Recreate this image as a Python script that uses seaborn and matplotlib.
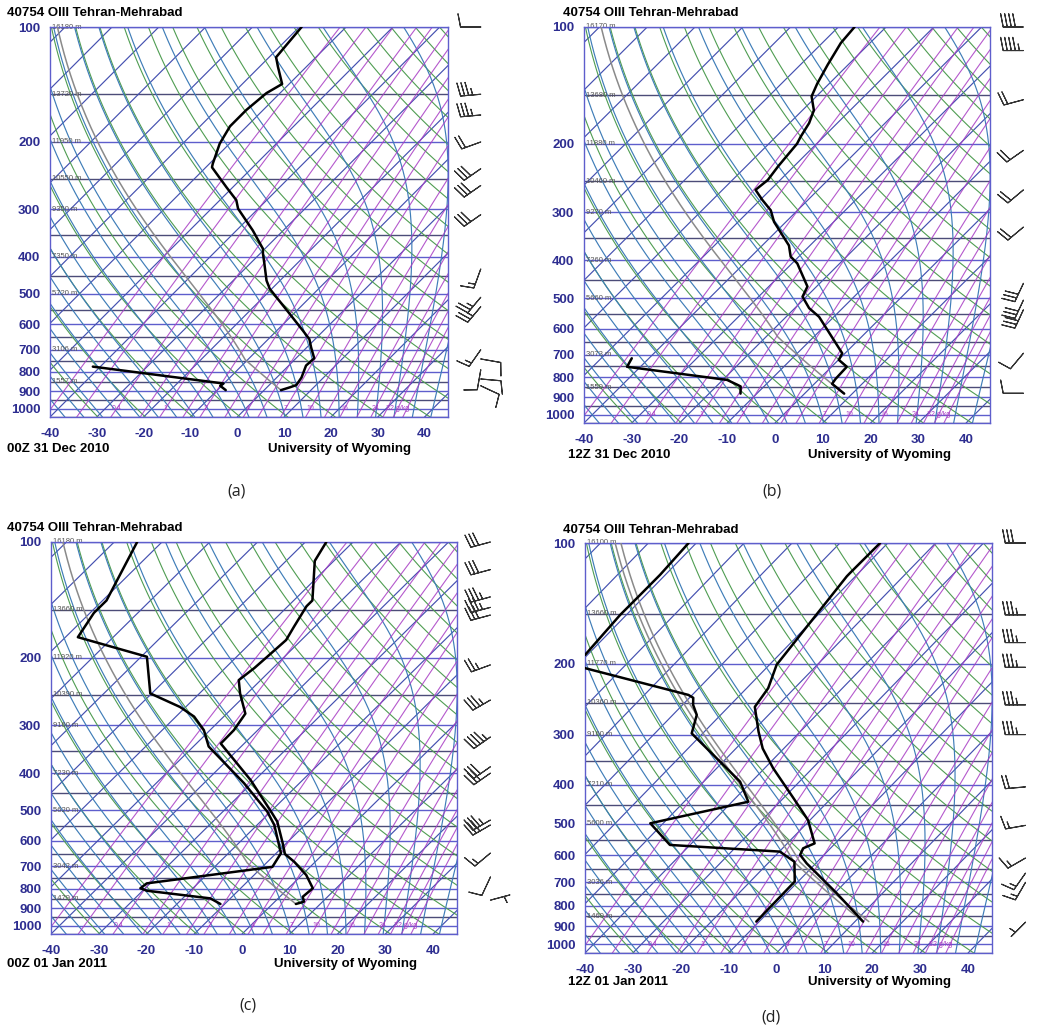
import numpy as np
import pandas as pd
import seaborn as sns
import matplotlib
matplotlib.use("Agg")
import matplotlib.pyplot as plt

W, H = 1040, 1030
SKEW = 35.4      # degC of horizontal shift per unit of ln(p)
P_BOT = 1050.0

# ---- soundings (pressure hPa, temperature degC) ----
a_temp_p = [100, 120, 127, 141, 149, 165, 182, 202, 228, 233, 263, 284, 299, 341, 381, 392,
            417, 461, 485, 564, 624, 657, 690, 737, 770, 828, 866, 878, 893]
a_temp_t = [-69.5, -68.5, -66.1, -61.5, -62.9, -63.6, -63.6, -62.1, -59.3, -58.7, -51.3, -46.5,
            -44.3, -36.5, -30.4, -29.4, -26.9, -22.9, -20.4, -10.8, -4.4, -1.2, 0.9, 3.9, 3.7,
            5.3, 5.8, 4.9, 3.6]
a_dewp_p = [775, 858, 870, 893]
a_dewp_t = [-41.6, -10.1, -10.3, -8.2]

b_temp_p = [100, 110, 125, 140, 151, 164, 177, 192, 200, 229, 248, 263, 279, 297, 318, 366,
            391, 407, 467, 496, 531, 559, 694, 722, 752, 808, 832, 882]
b_temp_t = [-66.6, -66.1, -64.3, -62.5, -61.0, -57.6, -55.9, -54.8, -54.1, -53.3, -52.6, -53.1,
            -49.6, -45.6, -42.5, -34.4, -31.7, -28.9, -21.9, -20.8, -17.0, -13.1, -0.6, 0.1,
            3.2, 3.4, 3.7, 8.3]
b_dewp_p = [715, 752, 813, 837, 845, 882]
b_dewp_t = [-43.6, -42.8, -19.1, -15.9, -14.9, -13.4]

c_temp_p = [100, 112, 142, 147, 166, 180, 199, 213, 229, 248, 280, 309, 335, 417, 504, 535,
            610, 650, 681, 737, 798, 840, 865, 877]
c_temp_t = [-65.6, -64.0, -56.1, -56.1, -54.4, -53.2, -53.6, -53.9, -54.6, -51.5, -46.1, -45.0,
            -44.9, -30.9, -19.9, -16.5, -10.7, -8.0, -4.4, 0.9, 5.1, 4.8, 6.1, 4.9]
c_dewp_p = [100, 142, 153, 177, 199, 248, 269, 285, 309, 341, 425, 504, 546, 647, 702, 775,
            798, 810, 848, 877]
c_dewp_t = [-105.2, -99.2, -99.2, -97.4, -78.8, -70.3, -61.2, -56.2, -51.3, -46.8, -31.6, -20.7,
            -16.4, -9.0, -7.9, -30.7, -31.0, -29.1, -14.2, -10.9]

d_temp_p = [100, 119, 121, 201, 230, 256, 295, 325, 364, 432, 490, 560, 576, 598, 628, 745, 877]
d_temp_t = [-61.6, -61.8, -61.8, -58.5, -55.5, -54.5, -48.7, -44.4, -38.2, -27.9, -20.4, -14.3,
            -15.7, -15.0, -11.9, 0.4, 11.7]
d_dewp_p = [100, 120, 137, 151, 190, 198, 205, 239, 243, 253, 268, 298, 393, 441, 499, 565,
            587, 622, 697, 877]
d_dewp_t = [-101.6, -101.1, -101.2, -101.3, -100.5, -104.1, -97.8, -70.8, -69.2, -67.8, -65.0,
            -62.3, -42.4, -36.6, -52.7, -44.2, -19.9, -14.8, -10.7, -10.6]

# ---- winds (pressure hPa, direction deg, speed kt) ----
a_wind_p = [100, 150, 170, 200, 235, 260, 310, 430, 510, 540, 700, 740, 790, 835, 870]
a_wind_dir = [270, 265, 265, 250, 235, 235, 235, 200, 220, 220, 215, 100, 190, 95, 115]
a_wind_spd = [10, 35, 35, 20, 30, 30, 30, 15, 25, 25, 15, 10, 10, 10, 10]

b_wind_p = [100, 115, 154, 208, 263, 328, 458, 506, 536, 694, 880]
b_wind_dir = [270, 270, 255, 235, 230, 230, 205, 205, 205, 220, 270]
b_wind_spd = [40, 45, 20, 20, 20, 20, 30, 30, 30, 10, 10]

c_wind_p = [100, 118, 139, 148, 155, 209, 258, 322, 385, 400, 530, 546, 646, 746, 857]
c_wind_dir = [255, 255, 255, 255, 255, 250, 240, 235, 235, 235, 240, 240, 230, 205, 75]
c_wind_spd = [30, 30, 35, 35, 30, 25, 35, 45, 30, 30, 35, 30, 15, 10, 5]

d_wind_p = [100, 151, 177, 204, 253, 300, 405, 505, 609, 664, 700, 880]
d_wind_dir = [270, 270, 270, 270, 270, 270, 265, 260, 240, 215, 210, 225]
d_wind_spd = [30, 35, 35, 35, 35, 35, 20, 15, 15, 15, 15, 5]

# ---- heights of the standard levels ----
height_levels = [100, 150, 200, 250, 300, 400, 500, 700, 850]
a_heights = [16180, 13720, 11950, 10550, 9350, 7350, 5720, 3106, 1557]
b_heights = [16170, 13680, 11880, 10460, 9270, 7260, 5660, 3073, 1559]
c_heights = [16180, 13660, 11920, 10390, 9160, 7230, 5620, 3042, 1479]
d_heights = [16100, 13660, 11770, 10360, 9160, 7210, 5600, 3036, 1469]

station = "40754 OIII Tehran-Mehrabad"
times = ["00Z 31 Dec 2010", "12Z 31 Dec 2010", "00Z 01 Jan 2011", "12Z 01 Jan 2011"]
captions = ["(a)", "(b)", "(c)", "(d)"]

p_ticks = [100, 200, 300, 400, 500, 600, 700, 800, 900, 1000]
t_ticks = [-40, -30, -20, -10, 0, 10, 20, 30, 40]
mix_lines = [0.1, 0.2, 0.4, 0.7, 1, 1.5, 2, 3, 4, 5, 7, 10, 13, 16, 20, 24, 28, 32, 36]
mix_labels = {0.4: "0.4", 1: "1", 2: "2", 4: "4", 7: "7", 10: "10", 16: "16", 24: "24",
              32: "32 g/kg"}

C_ISOBAR = "#5e5ecc"
C_ISOBAR50 = "#4c4c78"
C_ISOTHERM = "#4450b0"
C_DRY = "#4f9d52"
C_MOIST = "#3f7db8"
C_MIX = "#a83cc4"
C_TICK = "#2d2d90"


def skew_x(t, p):
    return np.asarray(t, float) + SKEW * np.log(P_BOT / np.asarray(p, float))


def sat_vp(tc):
    return 6.112 * np.exp(17.67 * tc / (tc + 243.5))


def moist_slope(tk, p):
    es = sat_vp(tk - 273.15)
    rs = 0.622 * es / (p - es)
    num = 287.04 * tk + 2.501e6 * rs
    den = 1005.7 + 2.501e6 ** 2 * rs * 0.622 / (287.04 * tk ** 2)
    return num / den / p


def moist_path(tc0, p0, p1, n=160):
    ps = np.exp(np.linspace(np.log(p0), np.log(p1), n))
    ts = np.empty(n)
    ts[0] = tc0 + 273.15
    for i in range(n - 1):
        dp = ps[i + 1] - ps[i]
        k1 = moist_slope(ts[i], ps[i])
        k2 = moist_slope(ts[i] + 0.5 * dp * k1, ps[i] + 0.5 * dp)
        ts[i + 1] = ts[i] + dp * k2
    return ps, ts - 273.15


def dewpoint_from_mix(w, p):
    e = w * p / (622.0 + w)
    g = np.log(e / 6.112)
    return 243.5 * g / (17.67 - g)


def parcel(t0, td0, p0):
    tk, tdk = t0 + 273.15, td0 + 273.15
    t_lcl = 1.0 / (1.0 / (tdk - 56) + np.log(tk / tdk) / 800.0) + 56
    p_lcl = p0 * (t_lcl / tk) ** (1 / 0.2857)
    pd_ = np.exp(np.linspace(np.log(p0), np.log(p_lcl), 30))
    td_ = tk * (pd_ / p0) ** 0.2857 - 273.15
    pm, tm = moist_path(t_lcl - 273.15, p_lcl, 100)
    return np.concatenate([pd_, pm]), np.concatenate([td_, tm])


sns.set_theme(style="white")
plt.rcParams["font.family"] = ["Liberation Sans", "DejaVu Sans"]

fig = plt.figure(figsize=(W / 100, H / 100), dpi=100)
fig.patch.set_facecolor("white")

panels = [
    dict(box=(50, 27, 448, 417), tp=a_temp_p, tt=a_temp_t, dp=a_dewp_p, dt=a_dewp_t,
         wp=a_wind_p, wd=a_wind_dir, ws=a_wind_spd, hz=a_heights,
         title=(7, 13), tlab=(7, 449), uw=(340, 449), cap=(237, 492), double=False),
    dict(box=(584, 27, 990, 423), tp=b_temp_p, tt=b_temp_t, dp=b_dewp_p, dt=b_dewp_t,
         wp=b_wind_p, wd=b_wind_dir, ws=b_wind_spd, hz=b_heights,
         title=(563, 13), tlab=(568, 455), uw=(879, 455), cap=(772, 491), double=False),
    dict(box=(51, 542, 457, 934), tp=c_temp_p, tt=c_temp_t, dp=c_dewp_p, dt=c_dewp_t,
         wp=c_wind_p, wd=c_wind_dir, ws=c_wind_spd, hz=c_heights,
         title=(7, 528), tlab=(7, 964), uw=(346, 964), cap=(248, 1005), double=False),
    dict(box=(585, 543, 992, 953), tp=d_temp_p, tt=d_temp_t, dp=d_dewp_p, dt=d_dewp_t,
         wp=d_wind_p, wd=d_wind_dir, ws=d_wind_spd, hz=d_heights,
         title=(563, 530), tlab=(568, 982), uw=(880, 982), cap=(771, 1018), double=True),
]

p_line = np.exp(np.linspace(np.log(P_BOT), np.log(100), 120))

for i, pan in enumerate(panels):
    l, t, r, b = pan["box"]
    ax = fig.add_axes([l / W, 1 - b / H, (r - l) / W, (b - t) / H])
    ax.set_yscale("log")
    ax.set_xlim(-40, 45)
    ax.set_ylim(P_BOT, 100)
    ax.grid(False)
    ax.set_facecolor("white")

    # isobars
    for p in range(100, 1051, 50):
        ax.axhline(p, color=C_ISOBAR if p % 100 == 0 else C_ISOBAR50, lw=1.0, zorder=1)
    # isotherms
    for t0 in np.arange(-130, 50, 10):
        ax.plot(skew_x(t0, p_line), p_line, color=C_ISOTHERM, lw=0.85, zorder=1)
    # dry adiabats
    for th in range(230, 470, 10):
        tt = th * (p_line / 1000.0) ** 0.2857 - 273.15
        ax.plot(skew_x(tt, p_line), p_line, color=C_DRY, lw=0.8, zorder=1)
    # moist adiabats
    for t0 in range(-40, 45, 4):
        pu, tu = moist_path(t0, 1000, 100)
        pdn, tdn = moist_path(t0, 1000, P_BOT, n=10)
        pp = np.concatenate([pdn[::-1], pu[1:]])
        tt = np.concatenate([tdn[::-1], tu[1:]])
        ax.plot(skew_x(tt, pp), pp, color=C_MOIST, lw=0.85, zorder=1)
    # mixing ratio lines
    for w in mix_lines:
        tt = dewpoint_from_mix(w, p_line)
        ax.plot(skew_x(tt, p_line), p_line, color=C_MIX, lw=0.8, alpha=0.85, zorder=1)
        if w in mix_labels:
            ax.text(skew_x(dewpoint_from_mix(w, 1000), 1000), 1000, mix_labels[w],
                    color=C_MIX, fontsize=5, ha="center", va="center", zorder=2)

    # height labels of standard levels
    for lev, hgt in zip(height_levels, pan["hz"]):
        ax.text(-39.6, lev, f"{hgt} m", fontsize=5.5, color="#555555",
                ha="left", va="center", zorder=2)

    # parcel path from the surface
    sp_t = int(np.argmax(pan["tp"]))
    sp_d = int(np.argmax(pan["dp"]))
    pp, tp_ = parcel(pan["tt"][sp_t], pan["dt"][sp_d], pan["tp"][sp_t])
    ax.plot(skew_x(tp_, pp), pp, color="#8a8a8a", lw=1.1, zorder=3)
    if pan["double"]:
        tv = tp_ + 1.2
        ax.plot(skew_x(tv, pp), pp, color="#8a8a8a", lw=1.1, zorder=3)

    # temperature and dew point
    sns.lineplot(x=skew_x(pan["tt"], pan["tp"]), y=pan["tp"], ax=ax, sort=False,
                 estimator=None, color="black", lw=1.8, zorder=4)
    sns.lineplot(x=skew_x(pan["dt"], pan["dp"]), y=pan["dp"], ax=ax, sort=False,
                 estimator=None, color="black", lw=1.8, zorder=4)

    # wind barbs at the right
    wd = np.radians(pan["wd"])
    ws = np.asarray(pan["ws"], float)
    u, v = -ws * np.sin(wd), -ws * np.cos(wd)
    bb = ax.barbs(np.full(len(ws), 52.0), pan["wp"], u, v, length=5.4, color="#333333",
                  linewidth=0.8, sizes=dict(height=0.65, spacing=0.2), zorder=5)
    bb.set_clip_on(False)

    ax.set_yticks(p_ticks)
    ax.set_yticklabels([str(p) for p in p_ticks])
    ax.yaxis.set_minor_locator(matplotlib.ticker.NullLocator())
    ax.set_xticks(t_ticks)
    ax.set_xticklabels([str(x) for x in t_ticks])
    ax.tick_params(axis="both", length=0, labelsize=9.5, labelcolor=C_TICK)
    ax.tick_params(axis="y", pad=7)
    ax.tick_params(axis="x", pad=8)
    for lab in ax.get_xticklabels() + ax.get_yticklabels():
        lab.set_fontweight("bold")
    ax.set_xlabel("")
    ax.set_ylabel("")
    for s in ax.spines.values():
        s.set_color(C_ISOBAR)
        s.set_linewidth(1.0)

    fig.text(pan["title"][0] / W, 1 - pan["title"][1] / H, station, fontsize=9.5,
             fontweight="bold", ha="left", va="center", color="black")
    fig.text(pan["tlab"][0] / W, 1 - pan["tlab"][1] / H, times[i], fontsize=9.5,
             fontweight="bold", ha="left", va="center", color="black")
    fig.text(pan["uw"][0] / W, 1 - pan["uw"][1] / H, "University of Wyoming", fontsize=9.5,
             fontweight="bold", ha="center", va="center", color="black")
    fig.text(pan["cap"][0] / W, 1 - pan["cap"][1] / H, captions[i], fontsize=11.5,
             ha="center", va="center", color="#222222", family=["Open Sans", "DejaVu Sans"])

fig.savefig("out.png", dpi=100, facecolor="white")
